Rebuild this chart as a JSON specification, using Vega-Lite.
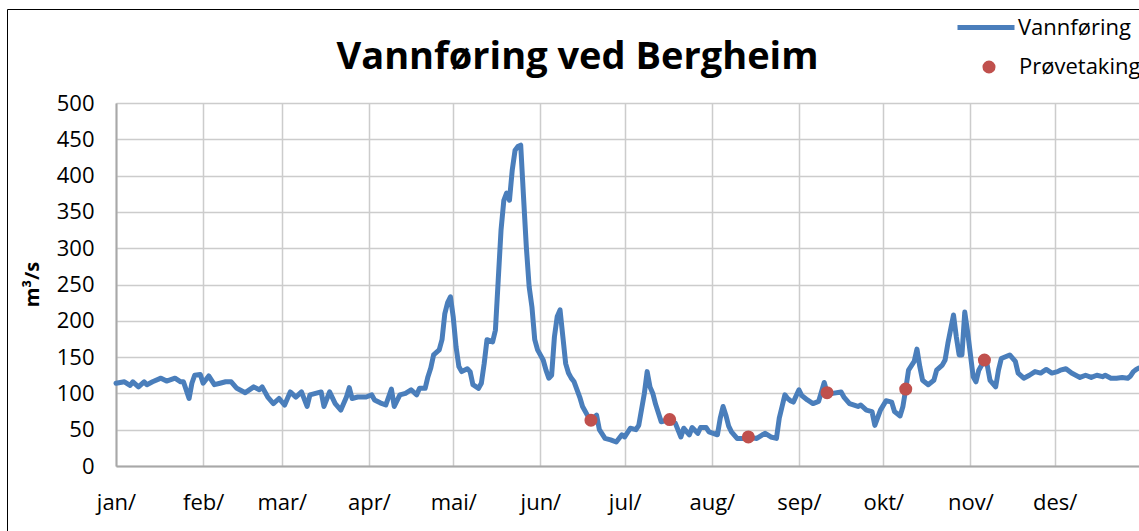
{
  "$schema": "https://vega.github.io/schema/vega-lite/v6.json",
  "autosize": {"type": "none"},
  "padding": {"left": 116, "top": 103, "right": 0, "bottom": 65},
  "width": 1023,
  "height": 363,
  "background": "white",
  "title": {
    "text": "Vannføring ved Bergheim",
    "font": "Open Sans",
    "fontSize": 38,
    "fontWeight": "bold",
    "color": "#000000",
    "anchor": "middle",
    "frame": "group",
    "baseline": "alphabetic",
    "dx": -50,
    "offset": -110
  },
  "config": {
    "view": {"stroke": null},
    "axis": {
      "labelFont": "Open Sans",
      "labelFontSize": 22,
      "labelColor": "#000000",
      "titleFont": "Open Sans",
      "titleColor": "#000000",
      "gridColor": "#cccccc",
      "gridWidth": 1.5,
      "domainColor": "#a8a8a8",
      "domainWidth": 2,
      "ticks": false,
      "tickSize": 0
    },
    "legend": {
      "labelFont": "Open Sans",
      "labelFontSize": 22,
      "labelColor": "#000000",
      "padding": 0
    }
  },
  "datasets": {
    "vf": [
      {"d": "2013-01-01", "q": 114}, {"d": "2013-01-04", "q": 116}, {"d": "2013-01-06", "q": 111}, {"d": "2013-01-07", "q": 116},
      {"d": "2013-01-09", "q": 109}, {"d": "2013-01-11", "q": 116}, {"d": "2013-01-12", "q": 112}, {"d": "2013-01-14", "q": 116},
      {"d": "2013-01-17", "q": 121}, {"d": "2013-01-19", "q": 117}, {"d": "2013-01-22", "q": 121}, {"d": "2013-01-24", "q": 116},
      {"d": "2013-01-25", "q": 116}, {"d": "2013-01-27", "q": 93}, {"d": "2013-01-28", "q": 114}, {"d": "2013-01-29", "q": 125},
      {"d": "2013-01-31", "q": 126},
      {"d": "2013-02-01", "q": 114}, {"d": "2013-02-03", "q": 124}, {"d": "2013-02-05", "q": 112}, {"d": "2013-02-07", "q": 114},
      {"d": "2013-02-09", "q": 116}, {"d": "2013-02-11", "q": 116}, {"d": "2013-02-13", "q": 107}, {"d": "2013-02-16", "q": 101},
      {"d": "2013-02-19", "q": 109}, {"d": "2013-02-21", "q": 105}, {"d": "2013-02-22", "q": 109}, {"d": "2013-02-24", "q": 95},
      {"d": "2013-02-26", "q": 86}, {"d": "2013-02-28", "q": 93},
      {"d": "2013-03-02", "q": 84}, {"d": "2013-03-04", "q": 102}, {"d": "2013-03-06", "q": 95}, {"d": "2013-03-08", "q": 102},
      {"d": "2013-03-10", "q": 82}, {"d": "2013-03-11", "q": 98}, {"d": "2013-03-13", "q": 100}, {"d": "2013-03-15", "q": 102},
      {"d": "2013-03-16", "q": 82}, {"d": "2013-03-18", "q": 102}, {"d": "2013-03-20", "q": 86}, {"d": "2013-03-22", "q": 77},
      {"d": "2013-03-24", "q": 95}, {"d": "2013-03-25", "q": 108}, {"d": "2013-03-26", "q": 93}, {"d": "2013-03-28", "q": 95},
      {"d": "2013-03-31", "q": 95},
      {"d": "2013-04-02", "q": 98}, {"d": "2013-04-03", "q": 91}, {"d": "2013-04-05", "q": 87}, {"d": "2013-04-07", "q": 84},
      {"d": "2013-04-09", "q": 106}, {"d": "2013-04-10", "q": 82}, {"d": "2013-04-12", "q": 98}, {"d": "2013-04-14", "q": 100},
      {"d": "2013-04-16", "q": 105}, {"d": "2013-04-18", "q": 98}, {"d": "2013-04-19", "q": 107}, {"d": "2013-04-21", "q": 107},
      {"d": "2013-04-22", "q": 123}, {"d": "2013-04-23", "q": 135}, {"d": "2013-04-24", "q": 153}, {"d": "2013-04-26", "q": 160},
      {"d": "2013-04-27", "q": 174}, {"d": "2013-04-28", "q": 210}, {"d": "2013-04-29", "q": 225}, {"d": "2013-04-30", "q": 233},
      {"d": "2013-05-01", "q": 205}, {"d": "2013-05-02", "q": 164}, {"d": "2013-05-03", "q": 137}, {"d": "2013-05-04", "q": 130},
      {"d": "2013-05-06", "q": 134}, {"d": "2013-05-07", "q": 130}, {"d": "2013-05-08", "q": 112}, {"d": "2013-05-10", "q": 107},
      {"d": "2013-05-11", "q": 114}, {"d": "2013-05-12", "q": 141}, {"d": "2013-05-13", "q": 174}, {"d": "2013-05-15", "q": 171},
      {"d": "2013-05-16", "q": 187}, {"d": "2013-05-17", "q": 256}, {"d": "2013-05-18", "q": 325}, {"d": "2013-05-19", "q": 366},
      {"d": "2013-05-20", "q": 376}, {"d": "2013-05-21", "q": 366}, {"d": "2013-05-22", "q": 408}, {"d": "2013-05-23", "q": 435},
      {"d": "2013-05-24", "q": 440}, {"d": "2013-05-25", "q": 442}, {"d": "2013-05-26", "q": 371}, {"d": "2013-05-27", "q": 302},
      {"d": "2013-05-28", "q": 247}, {"d": "2013-05-29", "q": 219}, {"d": "2013-05-30", "q": 174}, {"d": "2013-05-31", "q": 160},
      {"d": "2013-06-02", "q": 146}, {"d": "2013-06-03", "q": 132}, {"d": "2013-06-04", "q": 121}, {"d": "2013-06-05", "q": 125},
      {"d": "2013-06-06", "q": 178}, {"d": "2013-06-07", "q": 206}, {"d": "2013-06-08", "q": 215}, {"d": "2013-06-09", "q": 178},
      {"d": "2013-06-10", "q": 141}, {"d": "2013-06-11", "q": 128}, {"d": "2013-06-12", "q": 121}, {"d": "2013-06-13", "q": 116},
      {"d": "2013-06-15", "q": 95}, {"d": "2013-06-16", "q": 82}, {"d": "2013-06-18", "q": 68}, {"d": "2013-06-19", "q": 63},
      {"d": "2013-06-21", "q": 70}, {"d": "2013-06-22", "q": 50}, {"d": "2013-06-24", "q": 38}, {"d": "2013-06-26", "q": 36},
      {"d": "2013-06-28", "q": 33}, {"d": "2013-06-30", "q": 43},
      {"d": "2013-07-01", "q": 40}, {"d": "2013-07-03", "q": 52}, {"d": "2013-07-05", "q": 50}, {"d": "2013-07-06", "q": 56},
      {"d": "2013-07-08", "q": 100}, {"d": "2013-07-09", "q": 130}, {"d": "2013-07-10", "q": 109}, {"d": "2013-07-11", "q": 100},
      {"d": "2013-07-12", "q": 85}, {"d": "2013-07-14", "q": 61}, {"d": "2013-07-17", "q": 64}, {"d": "2013-07-19", "q": 59},
      {"d": "2013-07-21", "q": 40}, {"d": "2013-07-22", "q": 52}, {"d": "2013-07-24", "q": 43}, {"d": "2013-07-25", "q": 53},
      {"d": "2013-07-27", "q": 45}, {"d": "2013-07-28", "q": 53}, {"d": "2013-07-30", "q": 53}, {"d": "2013-07-31", "q": 47},
      {"d": "2013-08-03", "q": 43}, {"d": "2013-08-04", "q": 66}, {"d": "2013-08-05", "q": 82}, {"d": "2013-08-06", "q": 70},
      {"d": "2013-08-07", "q": 55}, {"d": "2013-08-08", "q": 47}, {"d": "2013-08-10", "q": 38}, {"d": "2013-08-12", "q": 38},
      {"d": "2013-08-14", "q": 40}, {"d": "2013-08-17", "q": 38}, {"d": "2013-08-19", "q": 43}, {"d": "2013-08-20", "q": 45},
      {"d": "2013-08-22", "q": 40}, {"d": "2013-08-24", "q": 38}, {"d": "2013-08-25", "q": 66}, {"d": "2013-08-26", "q": 82},
      {"d": "2013-08-27", "q": 98}, {"d": "2013-08-28", "q": 93}, {"d": "2013-08-29", "q": 90}, {"d": "2013-08-30", "q": 88},
      {"d": "2013-09-01", "q": 105}, {"d": "2013-09-02", "q": 97}, {"d": "2013-09-04", "q": 91}, {"d": "2013-09-06", "q": 86},
      {"d": "2013-09-08", "q": 89}, {"d": "2013-09-10", "q": 115}, {"d": "2013-09-11", "q": 101}, {"d": "2013-09-13", "q": 100},
      {"d": "2013-09-16", "q": 102}, {"d": "2013-09-17", "q": 95}, {"d": "2013-09-19", "q": 86}, {"d": "2013-09-22", "q": 82},
      {"d": "2013-09-23", "q": 84}, {"d": "2013-09-25", "q": 77}, {"d": "2013-09-27", "q": 75}, {"d": "2013-09-28", "q": 56},
      {"d": "2013-09-30", "q": 77},
      {"d": "2013-10-02", "q": 90}, {"d": "2013-10-04", "q": 88}, {"d": "2013-10-05", "q": 75}, {"d": "2013-10-07", "q": 69},
      {"d": "2013-10-08", "q": 82}, {"d": "2013-10-09", "q": 106}, {"d": "2013-10-10", "q": 132}, {"d": "2013-10-12", "q": 144},
      {"d": "2013-10-13", "q": 161}, {"d": "2013-10-14", "q": 137}, {"d": "2013-10-15", "q": 118}, {"d": "2013-10-17", "q": 112},
      {"d": "2013-10-19", "q": 118}, {"d": "2013-10-20", "q": 132}, {"d": "2013-10-22", "q": 139}, {"d": "2013-10-23", "q": 146},
      {"d": "2013-10-24", "q": 169}, {"d": "2013-10-26", "q": 208}, {"d": "2013-10-27", "q": 178}, {"d": "2013-10-28", "q": 153},
      {"d": "2013-10-29", "q": 153}, {"d": "2013-10-30", "q": 212}, {"d": "2013-10-31", "q": 185},
      {"d": "2013-11-02", "q": 123}, {"d": "2013-11-03", "q": 116}, {"d": "2013-11-04", "q": 132}, {"d": "2013-11-06", "q": 146},
      {"d": "2013-11-07", "q": 139}, {"d": "2013-11-08", "q": 118}, {"d": "2013-11-10", "q": 109}, {"d": "2013-11-11", "q": 132},
      {"d": "2013-11-12", "q": 148}, {"d": "2013-11-15", "q": 153}, {"d": "2013-11-17", "q": 144}, {"d": "2013-11-18", "q": 128},
      {"d": "2013-11-20", "q": 121}, {"d": "2013-11-22", "q": 125}, {"d": "2013-11-24", "q": 130}, {"d": "2013-11-26", "q": 128},
      {"d": "2013-11-28", "q": 133}, {"d": "2013-11-30", "q": 128},
      {"d": "2013-12-02", "q": 130}, {"d": "2013-12-03", "q": 132}, {"d": "2013-12-05", "q": 134}, {"d": "2013-12-07", "q": 128},
      {"d": "2013-12-09", "q": 124}, {"d": "2013-12-10", "q": 122}, {"d": "2013-12-12", "q": 125}, {"d": "2013-12-14", "q": 122},
      {"d": "2013-12-16", "q": 125}, {"d": "2013-12-18", "q": 123}, {"d": "2013-12-19", "q": 125}, {"d": "2013-12-21", "q": 121},
      {"d": "2013-12-23", "q": 121}, {"d": "2013-12-25", "q": 122}, {"d": "2013-12-27", "q": 121}, {"d": "2013-12-28", "q": 124},
      {"d": "2013-12-29", "q": 130}, {"d": "2013-12-30", "q": 133}, {"d": "2013-12-31", "q": 135}
    ],
    "pr": [
      {"d": "2013-06-19", "q": 63},
      {"d": "2013-07-17", "q": 64},
      {"d": "2013-08-14", "q": 40},
      {"d": "2013-09-11", "q": 101},
      {"d": "2013-10-09", "q": 106},
      {"d": "2013-11-06", "q": 146}
    ]
  },
  "encoding": {
    "x": {
      "field": "d",
      "type": "temporal",
      "scale": {
        "type": "utc",
        "domain": [
          {"year": 2013, "month": 1, "date": 1, "utc": true},
          {"year": 2013, "month": 12, "date": 31, "utc": true}
        ]
      },
      "axis": {
        "title": null,
        "values": [
          {"year": 2013, "month": 1, "date": 1, "utc": true},
          {"year": 2013, "month": 2, "date": 1, "utc": true},
          {"year": 2013, "month": 3, "date": 1, "utc": true},
          {"year": 2013, "month": 4, "date": 1, "utc": true},
          {"year": 2013, "month": 5, "date": 1, "utc": true},
          {"year": 2013, "month": 6, "date": 1, "utc": true},
          {"year": 2013, "month": 7, "date": 1, "utc": true},
          {"year": 2013, "month": 8, "date": 1, "utc": true},
          {"year": 2013, "month": 9, "date": 1, "utc": true},
          {"year": 2013, "month": 10, "date": 1, "utc": true},
          {"year": 2013, "month": 11, "date": 1, "utc": true},
          {"year": 2013, "month": 12, "date": 1, "utc": true}
        ],
        "labelExpr": "['jan/','feb/','mar/','apr/','mai/','jun/','jul/','aug/','sep/','okt/','nov/','des/'][utcmonth(datum.value)]",
        "labelPadding": 26,
        "labelAlign": "center",
        "labelFlush": false,
        "labelOverlap": false
      }
    },
    "y": {
      "field": "q",
      "type": "quantitative",
      "scale": {"domain": [0, 500], "nice": false, "zero": true},
      "axis": {
        "title": "m³/s",
        "titleFontSize": 20,
        "titleFontWeight": "bold",
        "titleX": -84,
        "titleY": 181,
        "titleAngle": -90,
        "titleBaseline": "middle",
        "titleAlign": "center",
        "values": [0, 50, 100, 150, 200, 250, 300, 350, 400, 450, 500],
        "labelPadding": 22
      }
    }
  },
  "layer": [
    {
      "data": {"name": "vf"},
      "mark": {"type": "line", "strokeWidth": 5, "strokeJoin": "round", "strokeCap": "round"},
      "encoding": {
        "stroke": {
          "datum": "Vannføring",
          "type": "nominal",
          "scale": {"range": ["#4A7EBB"]},
          "legend": {
            "title": null,
            "orient": "none",
            "legendX": 839,
            "legendY": -106.5,
            "symbolType": "stroke",
            "symbolSize": 3249,
            "symbolStrokeWidth": 5,
            "labelOffset": 1
          }
        }
      }
    },
    {
      "data": {"name": "pr"},
      "mark": {"type": "circle", "size": 170, "opacity": 1},
      "encoding": {
        "fill": {
          "datum": "Prøvetaking",
          "type": "nominal",
          "scale": {"range": ["#C0504D"]},
          "legend": {
            "title": null,
            "orient": "none",
            "legendX": 862,
            "legendY": -47,
            "symbolType": "circle",
            "symbolSize": 170,
            "symbolOpacity": 1,
            "labelOffset": 19
          }
        },
        "strokeDash": {
          "datum": "ramme",
          "type": "nominal",
          "scale": {"range": [[1, 0]]},
          "legend": {
            "title": null,
            "orient": "none",
            "legendX": -109,
            "legendY": -94,
            "padding": 700,
            "strokeColor": "#000000",
            "symbolOpacity": 0,
            "labelExpr": "''"
          }
        }
      }
    }
  ]
}
